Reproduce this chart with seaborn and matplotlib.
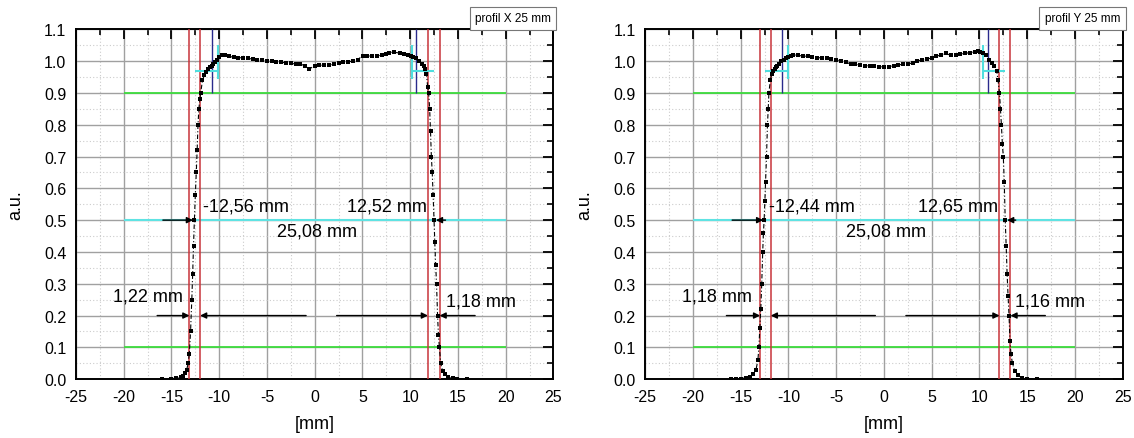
import numpy as np
import pandas as pd
import matplotlib
matplotlib.use("Agg")
import matplotlib.pyplot as plt
from matplotlib.ticker import MultipleLocator
import seaborn as sns

sns.set_style("white")
plt.rcParams["font.family"] = ["Liberation Sans", "DejaVu Sans"]
plt.rcParams["text.color"] = "black"
plt.rcParams["axes.labelcolor"] = "black"
plt.rcParams["xtick.color"] = "black"
plt.rcParams["ytick.color"] = "black"

# profil X 25 mm
pos_x = [-16.0, -15.0, -14.5, -14.0, -13.8, -13.6, -13.4, -13.25, -13.13, -13.0,
         -12.87, -12.78, -12.69, -12.6, -12.5, -12.4, -12.31, -12.22, -12.13, -12.03,
         -11.94, -11.75, -11.57, -11.4, -11.2, -11.0, -10.8, -10.6, -10.45, -10.2,
         -10.0, -9.7, -9.4, -8.96, -8.5, -8.0, -7.5, -7.0, -6.5, -6.0,
         -5.5, -5.0, -4.5, -4.0, -3.5, -3.0, -2.5, -2.0, -1.5, -1.0,
         -0.56, 0.0, 0.5, 1.0, 1.5, 2.0, 2.5, 3.0, 3.5, 4.0,
         4.5, 5.04, 5.5, 6.0, 6.5, 7.0, 7.5, 7.8, 8.3, 8.96,
         9.4, 9.8, 10.07, 10.3, 10.6, 10.9, 11.2, 11.4, 11.57, 11.7,
         11.83, 11.94, 12.04, 12.13, 12.22, 12.31, 12.4, 12.5, 12.58, 12.67,
         12.76, 12.87, 12.96, 13.06, 13.2, 13.4, 13.6, 14.0, 14.5, 14.9, 16.0]
val_x = [0.0, 0.002, 0.003, 0.006, 0.01, 0.018, 0.03, 0.05, 0.08, 0.15,
         0.25, 0.33, 0.42, 0.5, 0.58, 0.65, 0.72, 0.8, 0.85, 0.88,
         0.9, 0.94, 0.955, 0.965, 0.975, 0.98, 0.985, 0.99, 0.996, 1.005,
         1.012, 1.019, 1.02, 1.015, 1.012, 1.01, 1.011, 1.009, 1.006, 1.004,
         1.002, 1.001, 0.999, 0.998, 0.996, 0.995, 0.993, 0.991, 0.99, 0.986,
         0.975, 0.986, 0.987, 0.987, 0.988, 0.99, 0.993, 0.996, 0.998, 1.0,
         1.005, 1.017, 1.016, 1.016, 1.017, 1.018, 1.022, 1.027, 1.028, 1.025,
         1.022, 1.02, 1.017, 1.013, 1.009, 1.0, 0.991, 0.985, 0.975, 0.96,
         0.92, 0.9, 0.85, 0.78, 0.7, 0.65, 0.58, 0.5, 0.43, 0.36,
         0.3, 0.2, 0.14, 0.1, 0.05, 0.025, 0.015, 0.006, 0.003, 0.001, 0.0]

# profil Y 25 mm
pos_y = [-16.0, -15.5, -15.0, -14.5, -14.0, -13.7, -13.4, -13.2, -13.1, -13.0,
         -12.9, -12.8, -12.7, -12.62, -12.55, -12.47, -12.4, -12.3, -12.2, -12.12,
         -12.05, -11.9, -11.75, -11.6, -11.45, -11.3, -11.15, -11.0, -10.75, -10.5,
         -10.25, -10.0, -9.75, -9.5, -9.0, -8.5, -8.0, -7.5, -7.0, -6.5,
         -6.0, -5.5, -5.0, -4.5, -4.0, -3.5, -3.0, -2.5, -2.0, -1.5,
         -1.0, -0.5, 0.0, 0.5, 1.0, 1.5, 2.0, 2.5, 3.0, 3.5,
         4.0, 4.5, 5.0, 5.5, 6.0, 6.5, 7.0, 7.5, 8.0, 8.5,
         9.0, 9.5, 9.8, 10.1, 10.4, 10.7, 11.0, 11.3, 11.55, 11.8,
         11.95, 12.1, 12.2, 12.3, 12.4, 12.5, 12.6, 12.7, 12.8, 12.9,
         13.0, 13.1, 13.2, 13.3, 13.45, 13.7, 14.0, 14.5, 15.0, 16.0]
val_y = [0.0, 0.001, 0.002, 0.004, 0.008, 0.015, 0.03, 0.06, 0.1, 0.16,
         0.22, 0.3, 0.4, 0.46, 0.5, 0.56, 0.62, 0.7, 0.8, 0.85,
         0.9, 0.94, 0.96, 0.97, 0.975, 0.98, 0.985, 0.99, 1.0, 1.005,
         1.01, 1.013, 1.016, 1.02, 1.018, 1.016, 1.015, 1.013, 1.011, 1.01,
         1.009, 1.006, 1.004, 1.001, 0.998, 0.99, 0.99, 0.988, 0.986, 0.985,
         0.985, 0.983, 0.981, 0.983, 0.985, 0.988, 0.99, 0.99, 0.995, 1.0,
         1.004, 1.006, 1.01, 1.015, 1.02, 1.024, 1.018, 1.02, 1.022, 1.025,
         1.026, 1.03, 1.031, 1.03, 1.026, 1.02, 1.005, 0.995, 0.985, 0.97,
         0.94, 0.9, 0.85, 0.8, 0.74, 0.7, 0.62, 0.5, 0.42, 0.33,
         0.26, 0.2, 0.12, 0.08, 0.05, 0.025, 0.012, 0.004, 0.001, 0.0]

panels = ["profil X 25 mm", "profil Y 25 mm"]
red_lines = [[-13.12, -12.0, 11.86, 13.08], [-12.97, -11.85, 12.1, 13.25]]
navy_lines = [[-10.75, 10.64], [-10.64, 10.9]]
cyan_vert = [[-10.08, 10.19], [-10.08, 10.34]]
cyan_horiz = [[(-12.53, -10.08), (10.19, 12.46)], [(-12.45, -10.08), (10.34, 12.63)]]
half_text = [["-12,56 mm", "12,52 mm"], ["-12,44 mm", "12,65 mm"]]
width_text = ["25,08 mm", "25,08 mm"]
pen_text = [["1,22 mm", "1,18 mm"], ["1,18 mm", "1,16 mm"]]
arrows_half = [[(-15.9, -12.75), (13.7, 12.7)], [(-15.9, -12.65), (13.8, 12.9)]]
arrows_pen = [[(-16.5, -13.12), (-0.9, -12.0), (2.3, 11.86), (16.8, 13.08)],
              [(-16.5, -12.97), (-0.9, -11.85), (2.3, 12.1), (16.9, 13.25)]]

profiles = [pd.DataFrame({"x": pos_x, "v": val_x}),
            pd.DataFrame({"x": pos_y, "v": val_y})]

fig = plt.figure(figsize=(11.34, 4.39), dpi=100)
axes = [fig.add_axes([0.067, 0.134, 0.421, 0.797]),
        fig.add_axes([0.569, 0.134, 0.421, 0.797])]

for i, ax in enumerate(axes):
    ax.set_xlim(-25, 25)
    ax.set_ylim(0, 1.1)
    ax.xaxis.set_major_locator(MultipleLocator(5))
    ax.xaxis.set_minor_locator(MultipleLocator(2.5))
    ax.yaxis.set_major_locator(MultipleLocator(0.1))
    ax.yaxis.set_minor_locator(MultipleLocator(0.05))
    ax.set_axisbelow(True)
    ax.grid(which="major", color="#a0a0a0", linewidth=1.0)
    ax.grid(which="minor", color="#cccccc", linewidth=0.8, linestyle=(0, (1, 2)))
    ax.tick_params(which="both", direction="in", top=True, right=True, labelsize=11.5,
                   color="black")
    ax.tick_params(which="major", length=7, width=1.3)
    ax.tick_params(which="minor", length=4, width=1.2)
    ax.tick_params(axis="x", pad=7)
    ax.tick_params(axis="y", pad=7)
    ax.set_xticklabels([f"{t:g}" for t in ax.get_xticks()])
    ax.set_yticks(np.arange(0, 1.11, 0.1))
    ax.set_yticklabels([f"{t:.1f}" for t in np.arange(0, 1.11, 0.1)])
    for s in ax.spines.values():
        s.set_color("black")
        s.set_linewidth(1.4)

    # reference levels
    ax.hlines([0.9, 0.1], -20, 20, color="#3ddc3d", linewidth=1.3, zorder=2)
    ax.hlines(0.5, -20, 20, color="#5fe3e3", linewidth=1.5, zorder=2)

    for xr in red_lines[i]:
        ax.axvline(xr, color="#c8343a", linewidth=1.1, zorder=3)
    for xn in navy_lines[i]:
        ax.vlines(xn, 0.9, 1.1, color="#2a2a8c", linewidth=1.0, zorder=3)
    for xc in cyan_vert[i]:
        ax.vlines(xc, 0.945, 1.05, color="#4fdede", linewidth=1.5, zorder=3)
    for x0, x1 in cyan_horiz[i]:
        ax.hlines(0.97, x0, x1, color="#4fdede", linewidth=1.5, zorder=3)

    sns.lineplot(data=profiles[i], x="x", y="v", ax=ax, color="black", linewidth=0.8,
                 linestyle=(0, (4, 2, 1, 2)), marker="s", markersize=2.4,
                 markeredgewidth=0, zorder=5, sort=False)

    for x0, x1 in arrows_half[i] + arrows_pen[i]:
        y = 0.5 if (x0, x1) in arrows_half[i] else 0.2
        ax.annotate("", xy=(x1, y), xytext=(x0, y),
                    arrowprops=dict(arrowstyle="-|>", color="black", lw=1.0,
                                    mutation_scale=9, shrinkA=0, shrinkB=0),
                    zorder=6)

    ax.text(-11.7 if i == 0 else -12.0, 0.545, half_text[i][0], fontsize=13,
            ha="left", va="center")
    ax.text(11.8 if i == 0 else 11.9, 0.545, half_text[i][1], fontsize=13,
            ha="right", va="center")
    ax.text(0.2, 0.465, width_text[i], fontsize=13, ha="center", va="center")
    ax.text(-13.8, 0.26, pen_text[i][0], fontsize=13, ha="right", va="center")
    ax.text(13.75, 0.245, pen_text[i][1], fontsize=13, ha="left", va="center")

    ax.set_xlabel("[mm]", fontsize=13, labelpad=8)
    ax.set_ylabel("a.u.", fontsize=13, labelpad=14)

    ax.text(0.995, 1.014, panels[i], transform=ax.transAxes, fontsize=8.5,
            ha="right", va="bottom",
            bbox=dict(boxstyle="square,pad=0.45", facecolor="white",
                      edgecolor="#777777", linewidth=0.8))

fig.savefig("out.png", dpi=100)
